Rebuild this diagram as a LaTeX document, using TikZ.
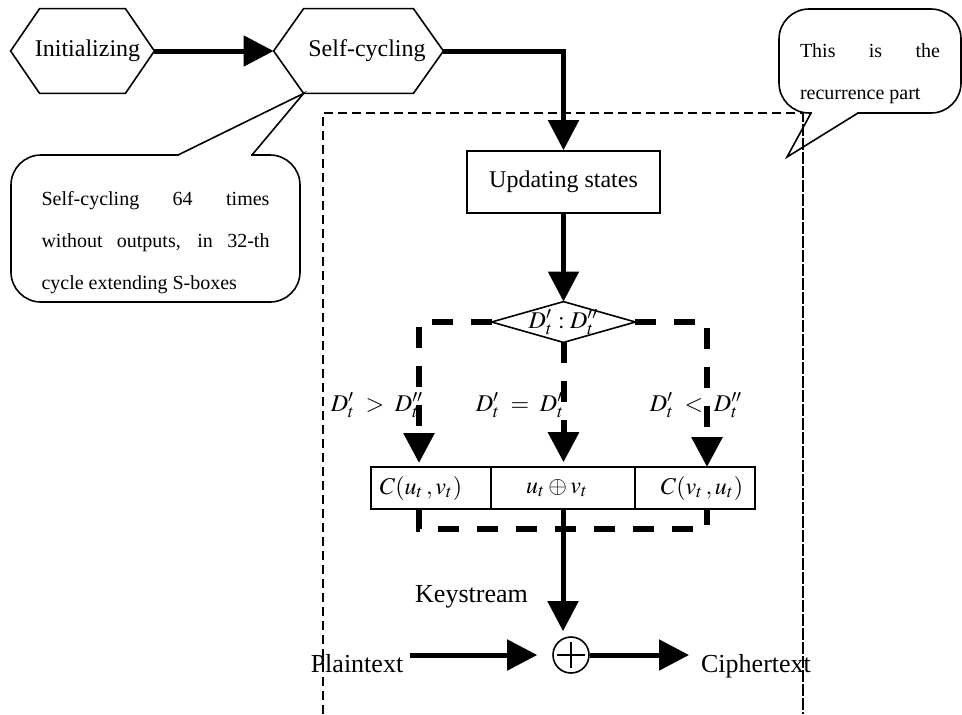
\documentclass[tikz,border=0pt]{standalone}
\usepackage{mathptmx}
\usepackage[no-math]{fontspec}
\setmainfont{Liberation Serif}
\usetikzlibrary{arrows.meta,calc}
\newcommand\hexdraw[2]{\draw[thinl] (#1.west) -- ([xshift=#2]#1.north west) -- ([xshift=-#2]#1.north east) -- (#1.east) -- ([xshift=-#2]#1.south east) -- ([xshift=#2]#1.south west) -- cycle;}
\begin{document}
\begin{tikzpicture}[x=0.5pt,y=-0.5pt,
  thinl/.style={line width=0.8pt},
  arr/.style={line width=2.5pt,-{Triangle[length=15pt,width=15pt]}},
  dasharr/.style={line width=3pt,dash pattern=on 10.5pt off 9pt,-{Triangle[length=15pt,width=15pt]}},
  dashl/.style={line width=3pt,dash pattern=on 10.5pt off 9pt},
  border/.style={line width=0.75pt,dash pattern=on 4.5pt off 2.5pt},
  hexn/.style={inner sep=0pt,font=\fontsize{12}{14}\selectfont},
  box/.style={draw,thinl,inner sep=0pt,font=\fontsize{12}{14}\selectfont},
  callout/.style={draw,thinl,rounded corners=15pt,inner sep=0pt,font=\fontsize{10}{21}\selectfont,align=justify},
  lbl/.style={inner sep=0pt,font=\fontsize{12}{14}\selectfont},
  big/.style={font=\fontsize{13}{15}\selectfont}
]
\useasboundingbox (0,0) rectangle (962,714);

% recurrence border
\coordinate (bd1) at (323,714);
\coordinate (bd2) at (323,113);
\coordinate (bd3) at (803,113);
\coordinate (bd4) at (803,714);
\draw[border] (bd1) -- (bd2) -- (bd3) -- (bd4);

% hexagons
\node[hexn,minimum width=71.5pt,minimum height=42pt] (init) at (82.5,51) {\hspace*{5pt}Initializing};
\hexdraw{init}{14.5pt}
\node[hexn,minimum width=84.5pt,minimum height=42pt] (self) at (358.5,51) {\hspace*{8.5pt}Self-cycling};
\hexdraw{self}{15pt}
\draw[arr] (init.east) -- (self.west);

% updating states
\node[box,minimum width=96.5pt,minimum height=31pt] (upd) at (563.5,182) {Updating states};
\draw[arr] (self.east) -| (upd.north);

% diamond
\node[lbl,minimum width=71.5pt,minimum height=20pt] (dia) at (563.5,322) {$D'_t : D''_t$};
\draw[thinl] (dia.west) -- (dia.north) -- (dia.east) -- (dia.south) -- cycle;
\draw[arr] (upd.south) -- (dia.north);

% cells
\node[box,minimum width=60pt,minimum height=21pt] (c1) at (431,488) {$C(u_t\,,v_t)$\hspace*{10pt}};
\node[box,minimum width=72pt,minimum height=21pt] (c2) at (563,488) {$u_t\oplus v_t$\hspace*{6pt}};
\node[box,minimum width=60pt,minimum height=21pt] (c3) at (695,488) {\hspace*{7pt}$C(v_t\,,u_t)$};

\coordinate (aL) at (419,467);
\coordinate (aR) at (707,467);
\coordinate (bL) at (419,509);
\coordinate (cL) at (419,529);
\coordinate (bR) at (707,509);

\draw[dasharr,shorten >=2pt] (dia.west) -| (aL);
\draw[dasharr,shorten >=2pt] (dia.south) -- (dia.south |- c2.north);
\draw[dasharr] (dia.east) -| (aR);
\draw[dashl] (bL) -- (cL) -| (bR);

\node[lbl] (l1) at (377,405) {$D'_t\;>\;D''_t$};
\node[lbl] (l2) at (522,405) {$D'_t\;=\;D''_t$};
\node[lbl] (l3) at (696,405) {$D'_t\;<\;D''_t$};

% xor and texts
\node[draw,thinl,circle,minimum size=18pt,inner sep=0pt] (xor) at (571,655) {};
\draw[thinl] ([yshift=6.5pt]xor.center) -- ([yshift=-6.5pt]xor.center);
\draw[thinl] ([xshift=-6.8pt]xor.center) -- ([xshift=6.8pt]xor.center);

\draw[arr,shorten >=2.5pt] (c2.south) -- (c2.south |- xor.north);
\node[big,anchor=base] (ks) at (471.5,602) {Keystream};
\node[big,anchor=base] (pt) at (357,672) {Plaintext};
\node[big,anchor=base] (ct) at (756,672) {Ciphertext};
\draw[arr,shorten >=7.5pt] (pt.east |- xor.west) -- (xor.west);
\draw[arr,shorten >=2.5pt] (xor.east) -- (xor.east -| ct.west);

% left callout
\node[callout,text width=114pt,minimum width=144.5pt,minimum height=73.5pt] (co1) at (155.5,228.5)
  {\sloppy\rule{0pt}{21pt}Self-cycling 64 times\linebreak without outputs, in 32-th\linebreak cycle extending S-boxes};
\coordinate (t1a) at (178,155);
\coordinate (t1b) at (252,155);
\coordinate (t1tip) at ([xshift=15pt]self.south west);
\draw[white,line width=1.6pt] ([xshift=0.6pt]t1a) -- ([xshift=-0.6pt]t1b);
\draw[thinl,line join=miter] (t1a) -- (t1tip) -- (t1b);

% right callout
\node[callout,text width=70pt,minimum width=91pt,minimum height=52pt] (co2) at (870,61)
  {\sloppy\rule{0pt}{20pt}This is the\linebreak recurrence part};
\coordinate (t2a) at (811,113);
\coordinate (t2b) at (858,113);
\coordinate (t2tip) at (787,157);
\draw[white,line width=1.6pt] ([xshift=0.6pt]t2a) -- ([xshift=-0.6pt]t2b);
\draw[thinl,line join=miter] (t2a) -- (t2tip) -- (t2b);
\draw[border] (bd3) -- (bd4);
\end{tikzpicture}
\end{document}
